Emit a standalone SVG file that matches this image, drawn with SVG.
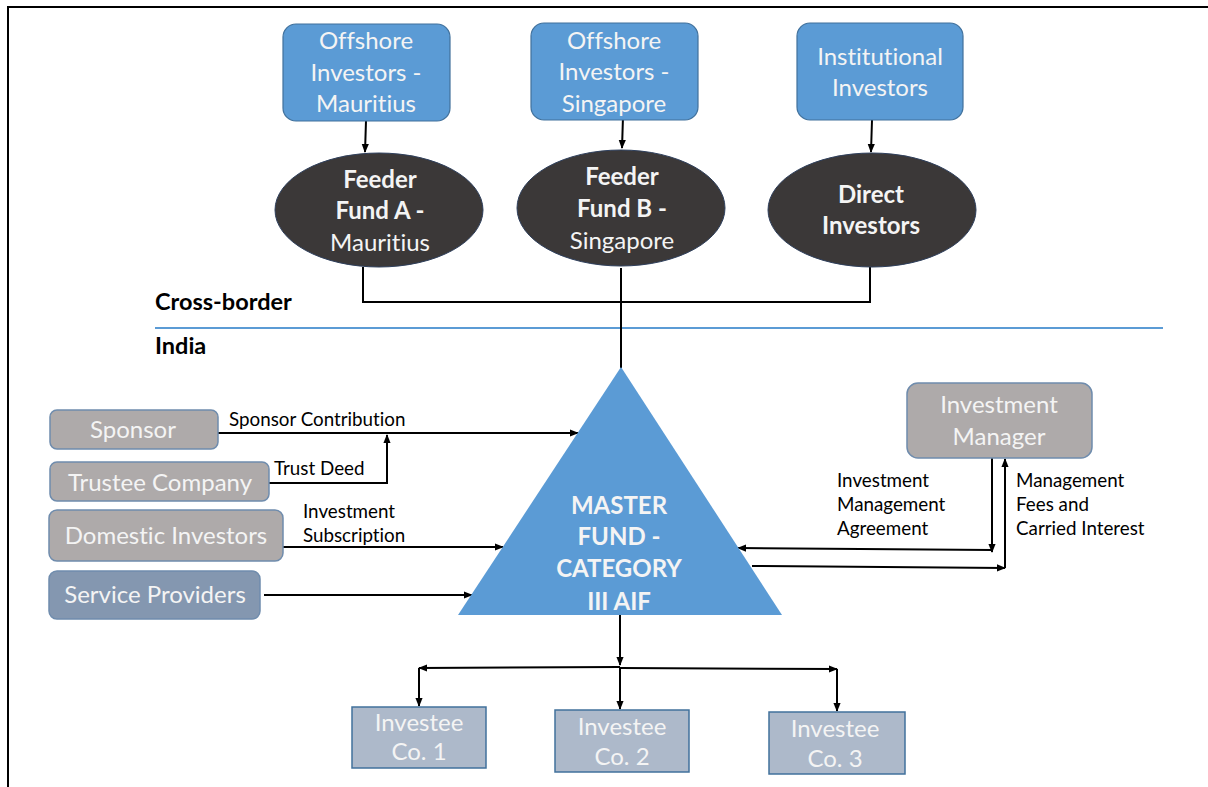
<svg xmlns="http://www.w3.org/2000/svg" width="1208" height="787" viewBox="0 0 1208 787">
<defs>
<marker id="ah" viewBox="0 0 10 10" refX="9" refY="5" markerWidth="9" markerHeight="9" markerUnits="userSpaceOnUse" orient="auto">
<path d="M0,1 L10,5 L0,9 z" fill="#000"/>
</marker>
<style>
text{font-variant-ligatures:none}
.t{font-family:Lato,"Open Sans","Liberation Sans",sans-serif;text-anchor:middle;fill:#f4f4f4;font-size:24px}
.b{font-weight:bold}
.lbl{font-family:Lato,"Open Sans","Liberation Sans",sans-serif;font-size:18.8px;fill:#000}
.hd{font-family:Lato,"Open Sans","Liberation Sans",sans-serif;font-size:23.5px;font-weight:bold;fill:#000}
.blue{fill:#5b9bd5;stroke:#41719c;stroke-width:1.2}
.gray{fill:#aeaaaa;stroke:#6f8cad;stroke-width:1.5}
.slate{fill:#8497b0;stroke:#6f8cad;stroke-width:1.5}
.inv{fill:#adb9ca;stroke:#41719c;stroke-width:1.5}
.ell{fill:#3b3838;stroke:#2e3f5c;stroke-width:1}
.c{fill:none;stroke:#000;stroke-width:2}
.ca{fill:none;stroke:#000;stroke-width:2;marker-end:url(#ah)}
</style>
</defs>
<rect x="0" y="0" width="1208" height="787" fill="#fff"/>
<rect x="8" y="7" width="1210" height="800" fill="none" stroke="#000" stroke-width="2"/>

<text class="hd" x="155" y="310">Cross-border</text>
<line x1="155" y1="328" x2="1163" y2="328" stroke="#5b9bd5" stroke-width="2"/>
<text class="hd" x="155" y="354">India</text>

<g id="connectors">
<line class="ca" x1="366" y1="121" x2="365" y2="152"/>
<line class="ca" x1="623" y1="117" x2="622" y2="148"/>
<line class="ca" x1="872" y1="120" x2="871" y2="152"/>
<polyline class="c" points="363,267 363,302 870,302 870,267"/>
<line class="c" x1="621" y1="268" x2="621" y2="368"/>
<line class="ca" x1="218" y1="433" x2="578" y2="433"/>
<polyline class="ca" points="269,483 387,483 387,435"/>
<line class="ca" x1="283" y1="547" x2="503" y2="547"/>
<line class="ca" x1="264" y1="595" x2="472" y2="595"/>
<line class="ca" x1="992" y1="458" x2="992" y2="552"/>
<line class="ca" x1="992" y1="550" x2="738" y2="548"/>
<line class="ca" x1="752" y1="566" x2="1005" y2="568"/>
<line class="ca" x1="1005" y1="568" x2="1005" y2="459"/>
<line class="ca" x1="620" y1="615" x2="620" y2="665"/>
<line class="ca" x1="620" y1="667" x2="419" y2="668"/>
<line class="ca" x1="620" y1="668" x2="837" y2="669"/>
<line class="ca" x1="419" y1="668" x2="419" y2="706"/>
<line class="ca" x1="620" y1="668" x2="620" y2="709"/>
<line class="ca" x1="837" y1="669" x2="837" y2="711"/>
<text class="lbl" x="229" y="426">Sponsor Contribution</text>
<text class="lbl" x="274" y="475">Trust Deed</text>
<text class="lbl" x="303" y="518">Investment</text>
<text class="lbl" x="303" y="542">Subscription</text>
<text class="lbl" x="837" y="487">Investment</text>
<text class="lbl" x="837" y="511">Management</text>
<text class="lbl" x="837" y="535">Agreement</text>
<text class="lbl" x="1016" y="487">Management</text>
<text class="lbl" x="1016" y="511">Fees and</text>
<text class="lbl" x="1016" y="535">Carried Interest</text>
</g>

<g id="offshore-mauritius">
<rect class="blue" x="283" y="24" width="167" height="97" rx="13"/>
<text class="t" x="366" y="49">Offshore</text>
<text class="t" x="366" y="81">Investors -</text>
<text class="t" x="366" y="112">Mauritius</text>
</g>
<g id="offshore-singapore">
<rect class="blue" x="531" y="23" width="167" height="97" rx="13"/>
<text class="t" x="614" y="49">Offshore</text>
<text class="t" x="614" y="80">Investors -</text>
<text class="t" x="614" y="112">Singapore</text>
</g>
<g id="institutional">
<rect class="blue" x="797" y="23" width="166" height="97" rx="13"/>
<text class="t" x="880" y="65">Institutional</text>
<text class="t" x="880" y="96">Investors</text>
</g>

<g id="feeder-a">
<ellipse class="ell" cx="379" cy="210" rx="104" ry="57"/>
<text class="t b" x="380" y="188">Feeder</text>
<text class="t b" x="380" y="219">Fund A -</text>
<text class="t" x="380" y="251">Mauritius</text>
</g>
<g id="feeder-b">
<ellipse class="ell" cx="621" cy="208" rx="104" ry="58"/>
<text class="t b" x="622" y="185">Feeder</text>
<text class="t b" x="622" y="217">Fund B -</text>
<text class="t" x="622" y="249">Singapore</text>
</g>
<g id="direct">
<ellipse class="ell" cx="872" cy="210" rx="104" ry="57"/>
<text class="t b" x="871" y="203">Direct</text>
<text class="t b" x="871" y="234">Investors</text>
</g>

<g id="master-fund">
<polygon points="621,367 458,615 782,615" fill="#5b9bd5"/>
<text class="t b" x="619" y="514">MASTER</text>
<text class="t b" x="619" y="545">FUND -</text>
<text class="t b" x="619" y="577">CATEGORY</text>
<text class="t b" x="619" y="610">III AIF</text>
</g>

<g id="sponsor">
<rect class="gray" x="50" y="410" width="168" height="39" rx="7"/>
<text class="t" x="133" y="438">Sponsor</text>
</g>
<g id="trustee">
<rect class="gray" x="50" y="462" width="219" height="39" rx="7"/>
<text class="t" x="160" y="491">Trustee Company</text>
</g>
<g id="domestic">
<rect class="gray" x="49" y="510" width="234" height="51" rx="8"/>
<text class="t" x="166" y="544">Domestic Investors</text>
</g>
<g id="service">
<rect class="slate" x="49" y="571" width="211" height="48" rx="8"/>
<text class="t" x="155" y="603">Service Providers</text>
</g>

<g id="investment-manager">
<rect class="gray" x="907" y="383" width="185" height="75" rx="11"/>
<text class="t" x="999" y="413">Investment</text>
<text class="t" x="999" y="445">Manager</text>
</g>

<g id="investee-1">
<rect class="inv" x="352" y="707" width="134" height="61"/>
<text class="t" x="419" y="731">Investee</text>
<text class="t" x="419" y="760">Co. 1</text>
</g>
<g id="investee-2">
<rect class="inv" x="555" y="710" width="134" height="62"/>
<text class="t" x="622" y="735">Investee</text>
<text class="t" x="622" y="765">Co. 2</text>
</g>
<g id="investee-3">
<rect class="inv" x="769" y="712" width="136" height="62"/>
<text class="t" x="835" y="737">Investee</text>
<text class="t" x="835" y="767">Co. 3</text>
</g>
</svg>
